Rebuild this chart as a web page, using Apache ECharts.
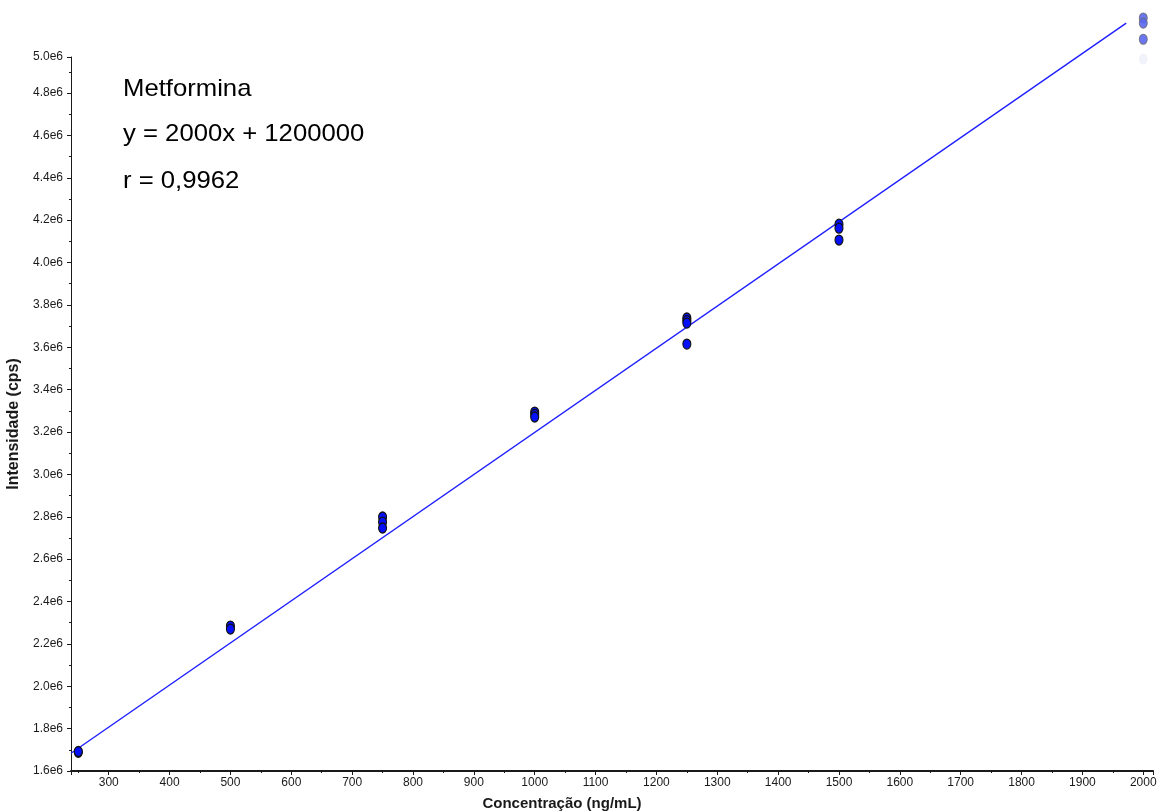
<!DOCTYPE html>
<html>
<head>
<meta charset="utf-8">
<script src="https://cdn.jsdelivr.net/npm/echarts@6/dist/echarts.min.js"></script>
<style>html,body{margin:0;padding:0;background:#fff}#c{width:1162px;height:812px}</style>
</head>
<body>
<div id="c"></div>
<script>
// Calibration points (concentration ng/mL, intensity cps)
const conc = [250, 250, 500, 500, 750, 750, 750, 1000, 1000, 1000, 1250, 1250, 1250, 1250, 1500, 1500, 1500];
const intensity = [1688000, 1692000, 2284000, 2270000, 2799000, 2775000, 2747000, 3294000, 3283000, 3271000, 3738000, 3726000, 3714000, 3615000, 4181000, 4162000, 4106000];
// Points at the top concentration (drawn faded, above the axis range)
const concTop = [2000, 2000, 2000];
const intensityTop = [5154000, 5130000, 5054000];
const concFaint = [2000];
const intensityFaint = [4960000];
// Regression line end points
const lineX = [238, 1972];
const lineY = [1684000, 5130000];
// Texts
const titleText = 'Metformina';
const equationText = 'y = 2000x + 1200000';
const rText = 'r = 0,9962';
const xName = 'Concentração (ng/mL)';
const yName = 'Intensidade (cps)';

const zip = (a, b) => a.map((v, i) => [v, b[i]]);
const labelFont = "'Liberation Sans', Arial, sans-serif";
const annFont = "24px 'Liberation Sans', Arial, sans-serif";

const chart = echarts.init(document.getElementById('c'), null, {renderer: 'canvas'});
chart.setOption({
  animation: false,
  backgroundColor: '#ffffff',
  grid: {left: 71, right: 9, top: 57, bottom: 41, containLabel: false, outerBoundsMode: 'none'},
  xAxis: {
    type: 'value', min: 238, max: 2016, splitNumber: 18, minInterval: 100, maxInterval: 100,
    name: xName, nameLocation: 'middle', nameGap: 25,
    nameTextStyle: {fontFamily: labelFont, fontWeight: 'bold', fontSize: 15, color: '#1a1a1a', padding: [0, 100, 0, 0]},
    axisLine: {show: true, lineStyle: {color: '#1a1a1a', width: 2}},
    axisTick: {show: true, length: 4, lineStyle: {color: '#1a1a1a'}},
    minorTick: {show: true, splitNumber: 2, length: 2, lineStyle: {color: '#1a1a1a'}},
    splitLine: {show: false},
    axisLabel: {margin: 6, fontFamily: labelFont, fontSize: 12, color: '#1a1a1a',
      showMinLabel: false, showMaxLabel: false,
      formatter: v => (Math.abs(v % 100) < 1e-6 ? String(v) : '')}
  },
  yAxis: {
    type: 'value', min: 1600000, max: 4970000, interval: 200000,
    name: yName, nameLocation: 'middle', nameGap: 44, nameRotate: 90,
    nameTextStyle: {fontFamily: labelFont, fontWeight: 'bold', fontSize: 16, color: '#1a1a1a', padding: [0, 20, 0, 0]},
    axisLine: {show: true, lineStyle: {color: '#1a1a1a', width: 1}},
    axisTick: {show: true, length: 4, lineStyle: {color: '#1a1a1a'}},
    minorTick: {show: true, splitNumber: 2, length: 2, lineStyle: {color: '#1a1a1a'}},
    splitLine: {show: false},
    axisLabel: {margin: 8, fontFamily: labelFont, fontSize: 12, color: '#1a1a1a',
      formatter: v => (v / 1e6).toFixed(1) + 'e6'}
  },
  graphic: [
    {type: 'text', x: 123, y: 89, scaleX: 1.07, style: {text: titleText, font: annFont, fill: '#000', verticalAlign: 'middle', align: 'left'}},
    {type: 'text', x: 123, y: 134, scaleX: 1.07, style: {text: equationText, font: annFont, fill: '#000', verticalAlign: 'middle', align: 'left'}},
    {type: 'text', x: 123, y: 181, scaleX: 1.07, style: {text: rText, font: annFont, fill: '#000', verticalAlign: 'middle', align: 'left'}}
  ],
  series: [
    {type: 'line', data: zip(lineX, lineY), showSymbol: false, symbol: 'none', clip: false,
      lineStyle: {color: '#1e1eff', width: 1.4}, z: 2},
    {type: 'scatter', data: zip(conc, intensity), symbol: 'circle', symbolSize: [8, 10], clip: false,
      itemStyle: {color: '#0510f8', borderColor: '#111', borderWidth: 1.2, opacity: 1}, z: 3},
    {type: 'scatter', data: zip(concTop, intensityTop), symbol: 'circle', symbolSize: [8, 10], clip: false,
      itemStyle: {color: '#5a68f0', borderColor: '#6a6a7a', borderWidth: 1, opacity: 0.9}, z: 3},
    {type: 'scatter', data: zip(concFaint, intensityFaint), symbol: 'circle', symbolSize: [8, 10], clip: false,
      itemStyle: {color: '#e8eaf8', borderColor: '#f0f0f4', borderWidth: 1, opacity: 0.6}, z: 3}
  ]
});
</script>
</body>
</html>
